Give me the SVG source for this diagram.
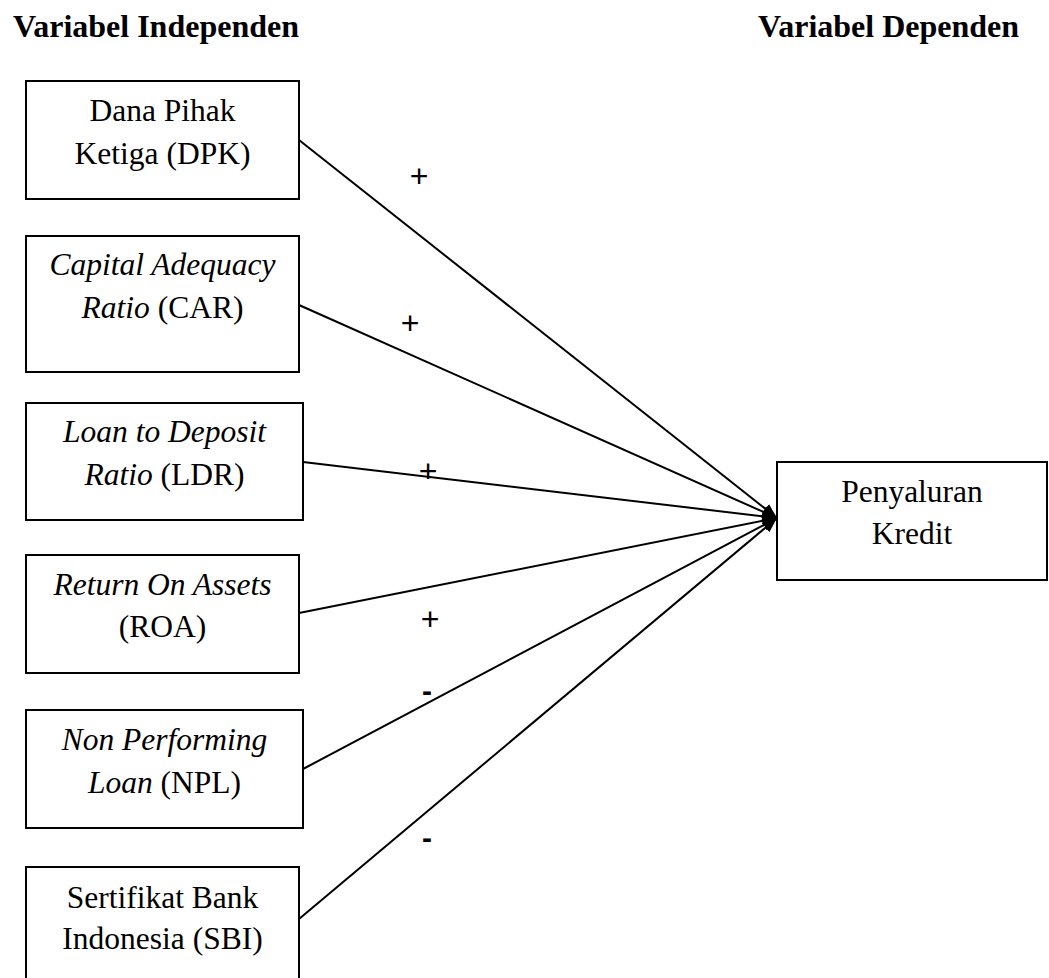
<svg xmlns="http://www.w3.org/2000/svg" width="1049" height="978" viewBox="0 0 1049 978">
<style>
.box{fill:#fff;stroke:#000;stroke-width:2}
.t{font-family:"Liberation Serif","Times New Roman",serif;font-size:31.5px;fill:#000;text-anchor:middle}
.h{font-family:"Liberation Serif","Times New Roman",serif;font-size:32px;font-weight:bold;fill:#000}
.i{font-style:italic}
.lbl{font-family:"Liberation Sans",Arial,sans-serif;font-size:32px;fill:#000;text-anchor:middle}
.neg{font-family:"Liberation Sans",Arial,sans-serif;font-size:30px;font-weight:bold;fill:#000;text-anchor:middle}
.c{stroke:#000;stroke-width:2;fill:none;marker-end:url(#ah)}
</style>
<defs>
<marker id="ah" markerUnits="userSpaceOnUse" markerWidth="16" markerHeight="12" refX="15" refY="6" orient="auto">
<path d="M0,0 L15,6 L0,12 Z" fill="#000"/>
</marker>
</defs>
<rect width="1049" height="978" fill="#fff"/>
<text class="h" x="13" y="37">Variabel Independen</text>
<text class="h" x="758" y="37">Variabel Dependen</text>
<g id="connectors">
<line class="c" x1="299" y1="140" x2="777" y2="518"/>
<line class="c" x1="299" y1="305" x2="777" y2="518"/>
<line class="c" x1="303" y1="462" x2="777" y2="518"/>
<line class="c" x1="299" y1="613" x2="777" y2="518"/>
<line class="c" x1="303" y1="769" x2="777" y2="518"/>
<line class="c" x1="299" y1="919" x2="777" y2="518"/>
<text class="lbl" x="419" y="187">+</text>
<text class="lbl" x="410" y="334">+</text>
<text class="lbl" x="428" y="482">+</text>
<text class="lbl" x="430" y="630">+</text>
<text class="neg" x="427" y="701">-</text>
<text class="neg" x="427" y="848">-</text>
</g>
<g id="dpk">
<rect class="box" x="26" y="81" width="273" height="118"/>
<text class="t" x="162.5" y="121">Dana Pihak</text>
<text class="t" x="162.5" y="164">Ketiga (DPK)</text>
</g>
<g id="car">
<rect class="box" x="26" y="236" width="273" height="136"/>
<text class="t" x="162.5" y="275"><tspan class="i">Capital Adequacy</tspan></text>
<text class="t" x="162.5" y="318"><tspan class="i">Ratio</tspan> (CAR)</text>
</g>
<g id="ldr">
<rect class="box" x="26" y="403" width="277" height="117"/>
<text class="t" x="164.5" y="442"><tspan class="i">Loan to Deposit</tspan></text>
<text class="t" x="164.5" y="485"><tspan class="i">Ratio</tspan> (LDR)</text>
</g>
<g id="roa">
<rect class="box" x="26" y="555" width="273" height="118"/>
<text class="t" x="162.5" y="595"><tspan class="i">Return On Assets</tspan></text>
<text class="t" x="162.5" y="637">(ROA)</text>
</g>
<g id="npl">
<rect class="box" x="26" y="710" width="277" height="118"/>
<text class="t" x="164.5" y="750"><tspan class="i">Non Performing</tspan></text>
<text class="t" x="164.5" y="793"><tspan class="i">Loan</tspan> (NPL)</text>
</g>
<g id="sbi">
<rect class="box" x="26" y="867" width="273" height="125"/>
<text class="t" x="162.5" y="908">Sertifikat Bank</text>
<text class="t" x="162.5" y="949">Indonesia (SBI)</text>
</g>
<g id="kredit">
<rect class="box" x="777" y="462" width="270" height="118"/>
<text class="t" x="912" y="502">Penyaluran</text>
<text class="t" x="912" y="544">Kredit</text>
</g>
</svg>
